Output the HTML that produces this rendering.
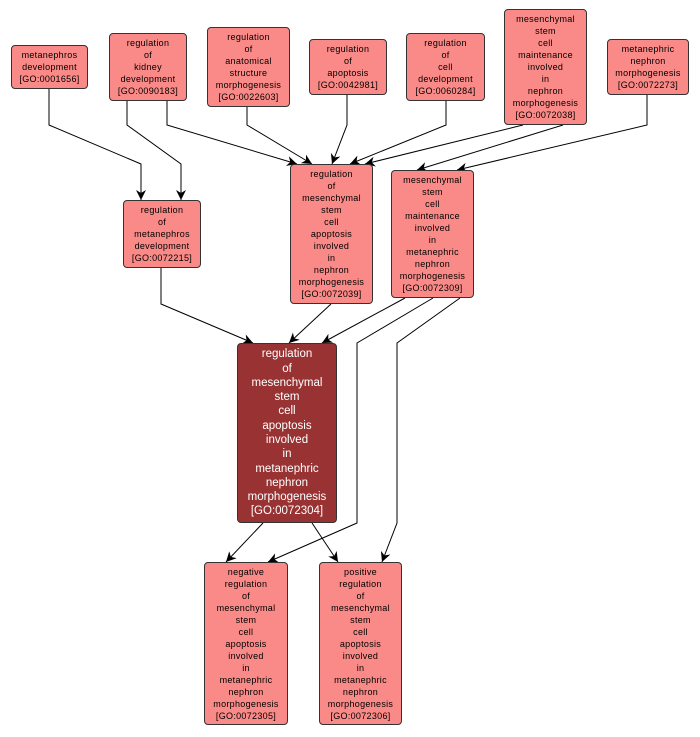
<!DOCTYPE html>
<html><head><meta charset="utf-8"><style>
html,body{margin:0;padding:0;background:#fff;width:700px;height:737px;overflow:hidden}
.n{position:absolute;box-sizing:border-box;background:#fa8a87;border:1px solid #333;border-radius:4px;
font-family:"Liberation Sans",sans-serif;font-size:9px;line-height:12px;color:#000;text-align:center;
display:flex;align-items:center;justify-content:center;letter-spacing:0.3px}
.m{background:#993333;color:#fff;font-size:11.5px;line-height:14.3px;letter-spacing:0}
svg{position:absolute;left:0;top:0}
</style></head><body>
<svg width="700" height="737">
<defs><marker id="a" markerUnits="userSpaceOnUse" markerWidth="12" markerHeight="12" refX="10" refY="5" orient="auto">
<path d="M10,5 L0,0 L3,5 L0,10 Z" fill="#000"/></marker></defs>
<g fill="none" stroke="#000" stroke-width="1" marker-end="url(#a)">
<polyline points="49,89 49,125 141,164 141,200"/>
<polyline points="127,101 127,125 181,164 181,200"/>
<polyline points="167,101 167,125 297,164"/>
<polyline points="247,107 247,125 312,164"/>
<polyline points="347,95 347,125 332,164"/>
<polyline points="446,101 446,125 350,164"/>
<polyline points="523,125 365,164"/>
<polyline points="563,125 417,170"/>
<polyline points="647,95 647,125 457,170"/>
<polyline points="161,268 161,304 253,343"/>
<polyline points="331,304 289,343"/>
<polyline points="405,298 322,343"/>
<polyline points="433,298 357,343 357,523 268,562"/>
<polyline points="460,298 397,343 397,523 382,562"/>
<polyline points="263,523 226,562"/>
<polyline points="312,523 338,562"/>
</g></svg>
<div class="n" style="left:11px;top:45px;width:77px;height:44px">metanephros<br>development<br>[GO:0001656]</div>
<div class="n" style="left:109px;top:33px;width:78px;height:68px">regulation<br>of<br>kidney<br>development<br>[GO:0090183]</div>
<div class="n" style="left:207px;top:27px;width:83px;height:80px">regulation<br>of<br>anatomical<br>structure<br>morphogenesis<br>[GO:0022603]</div>
<div class="n" style="left:309px;top:39px;width:78px;height:56px">regulation<br>of<br>apoptosis<br>[GO:0042981]</div>
<div class="n" style="left:406px;top:33px;width:79px;height:68px">regulation<br>of<br>cell<br>development<br>[GO:0060284]</div>
<div class="n" style="left:504px;top:9px;width:83px;height:116px">mesenchymal<br>stem<br>cell<br>maintenance<br>involved<br>in<br>nephron<br>morphogenesis<br>[GO:0072038]</div>
<div class="n" style="left:607px;top:39px;width:82px;height:56px">metanephric<br>nephron<br>morphogenesis<br>[GO:0072273]</div>
<div class="n" style="left:123px;top:200px;width:78px;height:68px">regulation<br>of<br>metanephros<br>development<br>[GO:0072215]</div>
<div class="n" style="left:290px;top:164px;width:83px;height:140px">regulation<br>of<br>mesenchymal<br>stem<br>cell<br>apoptosis<br>involved<br>in<br>nephron<br>morphogenesis<br>[GO:0072039]</div>
<div class="n" style="left:391px;top:170px;width:83px;height:128px">mesenchymal<br>stem<br>cell<br>maintenance<br>involved<br>in<br>metanephric<br>nephron<br>morphogenesis<br>[GO:0072309]</div>
<div class="n m" style="left:237px;top:343px;width:100px;height:180px">regulation<br>of<br>mesenchymal<br>stem<br>cell<br>apoptosis<br>involved<br>in<br>metanephric<br>nephron<br>morphogenesis<br>[GO:0072304]</div>
<div class="n" style="left:204px;top:562px;width:84px;height:163px">negative<br>regulation<br>of<br>mesenchymal<br>stem<br>cell<br>apoptosis<br>involved<br>in<br>metanephric<br>nephron<br>morphogenesis<br>[GO:0072305]</div>
<div class="n" style="left:319px;top:562px;width:83px;height:163px">positive<br>regulation<br>of<br>mesenchymal<br>stem<br>cell<br>apoptosis<br>involved<br>in<br>metanephric<br>nephron<br>morphogenesis<br>[GO:0072306]</div>
</body></html>
